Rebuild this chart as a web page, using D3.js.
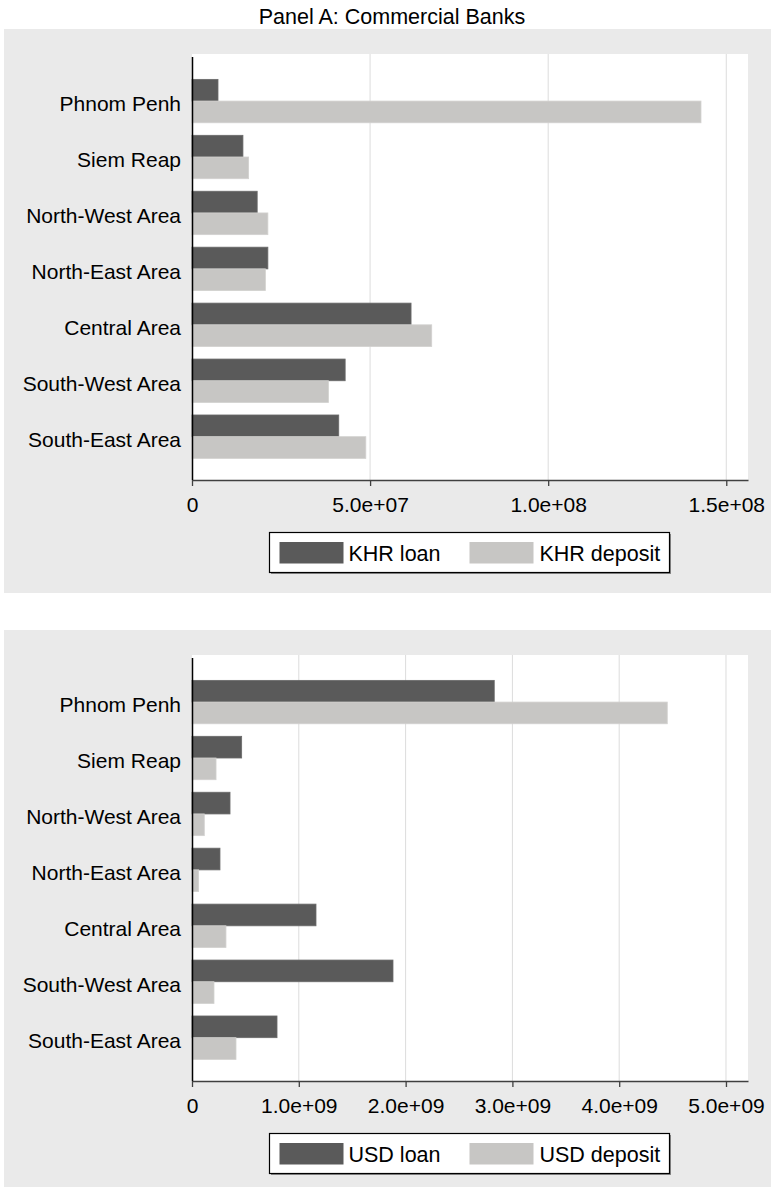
<!DOCTYPE html>
<html>
  <head>
    <meta charset="utf-8">
    <script type="text/javascript" src="https://cdn.jsdelivr.net/npm/d3@7"></script>
    <style type="text/css">
      body { margin: 0; background: #ffffff; }
      text { font-family: "Liberation Sans", Arial, Helvetica, sans-serif; fill: #000; }
    </style>
  </head>
  <body>
    <script type="text/javascript">

      // regions, top to bottom
      var regions = ["Phnom Penh", "Siem Reap", "North-West Area", "North-East Area",
                     "Central Area", "South-West Area", "South-East Area"];

      // KHR amounts (panel 1)
      var khrLoan    = [7.3e6, 1.43e7, 1.83e7, 2.13e7, 6.15e7, 4.30e7, 4.12e7];
      var khrDeposit = [1.429e8, 1.59e7, 2.13e7, 2.06e7, 6.73e7, 3.83e7, 4.88e7];

      // USD amounts (panel 2)
      var usdLoan    = [2.83e9, 0.465e9, 0.356e9, 0.262e9, 1.161e9, 1.882e9, 0.796e9];
      var usdDeposit = [4.45e9, 0.225e9, 0.115e9, 0.062e9, 0.318e9, 0.206e9, 0.412e9];

      // axis ticks
      var khrTicks = [0, 5e7, 1e8, 1.5e8];
      var usdTicks = [0, 1e9, 2e9, 3e9, 4e9, 5e9];

      var title = "Panel A: Commercial Banks";

      var width = 771;
      var height = 1189;

      var colLoan = "#5a5a5a";
      var colDeposit = "#c7c6c4";

      var svg = d3.select("body")
                  .append("svg")
                  .attr("width", width)
                  .attr("height", height);

      // stata style "1.0e+08"
      function sciFormat(v) {
        if (v === 0) return "0";
        var s = d3.format(".1e")(v);
        var parts = s.split("e");
        var exp = parseInt(parts[1]);
        var sign = exp < 0 ? "-" : "+";
        exp = Math.abs(exp);
        return parts[0] + "e" + sign + (exp < 10 ? "0" + exp : exp);
      }

      svg.append("text")
         .attr("x", 392)
         .attr("y", 24)
         .style("text-anchor", "middle")
         .style("font-size", "21.5px")
         .text(title);

      function drawPanel(top, bottom, loans, deposits, ticks, maxX, names) {
        var g = svg.append("g").attr("transform", "translate(0," + top + ")");

        // grey panel background
        g.append("rect")
         .attr("x", 4)
         .attr("y", 0)
         .attr("width", width - 4)
         .attr("height", bottom - top)
         .attr("fill", "#eaeaea");

        var plot = {left: 192, right: 748, top: 25, bottom: 451};

        g.append("rect")
         .attr("x", plot.left)
         .attr("y", plot.top)
         .attr("width", plot.right - plot.left)
         .attr("height", plot.bottom - plot.top)
         .attr("fill", "#ffffff");

        var xScale = d3.scaleLinear()
                       .domain([0, maxX])
                       .range([plot.left, plot.right]);

        var yScale = d3.scaleBand()
                       .domain(regions)
                       .range([plot.top, plot.bottom])
                       .paddingInner(0.224)
                       .paddingOuter(0.42)
                       .align(0.54);

        var series = d3.scaleBand()
                       .domain(["loan", "deposit"])
                       .range([0, yScale.bandwidth()]);

        // vertical grid lines
        g.append("g")
         .selectAll("line")
         .data(ticks.filter(function(d){ return d > 0; }))
         .enter()
         .append("line")
         .attr("x1", function(d){ return xScale(d); })
         .attr("x2", function(d){ return xScale(d); })
         .attr("y1", plot.top)
         .attr("y2", plot.bottom)
         .attr("stroke", "#dcdcdc")
         .attr("stroke-width", 1);

        var rows = regions.map(function(r, i){
          return {region: r, loan: loans[i], deposit: deposits[i]};
        });

        ["loan", "deposit"].forEach(function(key){
          g.append("g")
           .selectAll("rect")
           .data(rows)
           .enter()
           .append("rect")
           .attr("x", xScale(0))
           .attr("y", function(d){ return yScale(d.region) + series(key); })
           .attr("width", function(d){ return xScale(d[key]) - xScale(0); })
           .attr("height", series.bandwidth())
           .attr("fill", key == "loan" ? colLoan : colDeposit)
           .attr("stroke", key == "loan" ? "#6a6a6a" : "#d2d1cf")
           .attr("stroke-width", 0.8);
        });

        // x axis
        var xAxis = d3.axisBottom(xScale)
                      .tickValues(ticks)
                      .tickSize(6)
                      .tickPadding(11)
                      .tickSizeOuter(0)
                      .tickFormat(sciFormat);
        var ax = g.append("g")
                  .attr("transform", "translate(0," + plot.bottom + ")")
                  .call(xAxis);
        ax.select(".domain").attr("stroke", "#404040").attr("stroke-width", 1.3);
        ax.selectAll(".tick line").attr("stroke", "#404040").attr("stroke-width", 1.3);
        ax.selectAll(".tick text")
          .style("font-size", "21px")
          .style("font-family", "'Liberation Sans', Arial, sans-serif")
          .attr("fill", "#000");

        // category axis
        var yAxis = d3.axisLeft(yScale)
                      .tickSize(0)
                      .tickPadding(11);
        var ay = g.append("g")
                  .attr("transform", "translate(" + plot.left + ",0)")
                  .call(yAxis);
        ay.select(".domain")
          .attr("d", "M0.5," + (plot.top + 3) + "V" + plot.bottom)
          .attr("stroke", "#000")
          .attr("stroke-width", 1.5);
        ay.selectAll(".tick text")
          .style("font-size", "21px")
          .style("font-family", "'Liberation Sans', Arial, sans-serif")
          .attr("dy", "0.47em")
          .attr("fill", "#000");

        // legend
        var leg = g.append("g").attr("transform", "translate(269.5," + 503.5 + ")");
        leg.append("rect")
           .attr("x", 1.5)
           .attr("y", 1.5)
           .attr("width", 400)
           .attr("height", 40)
           .attr("fill", "#8a8a8a");
        leg.append("rect")
           .attr("width", 400)
           .attr("height", 40)
           .attr("fill", "#ffffff")
           .attr("stroke", "#000")
           .attr("stroke-width", 1.2);
        var items = [
          {label: names[0], color: colLoan, x: 10, tx: 79},
          {label: names[1], color: colDeposit, x: 200, tx: 270}
        ];
        items.forEach(function(it){
          leg.append("rect")
             .attr("x", it.x)
             .attr("y", 9.5)
             .attr("width", 64)
             .attr("height", 21.5)
             .attr("fill", it.color);
          leg.append("text")
             .attr("x", it.tx)
             .attr("y", 28.5)
             .style("font-size", "21.5px")
             .text(it.label);
        });
      }

      drawPanel(29, 593, khrLoan, khrDeposit, khrTicks, 1.561e8, ["KHR loan", "KHR deposit"]);
      drawPanel(630, 1187, usdLoan, usdDeposit, usdTicks, 5.206e9, ["USD loan", "USD deposit"]);
    </script>
  </body>
</html>
